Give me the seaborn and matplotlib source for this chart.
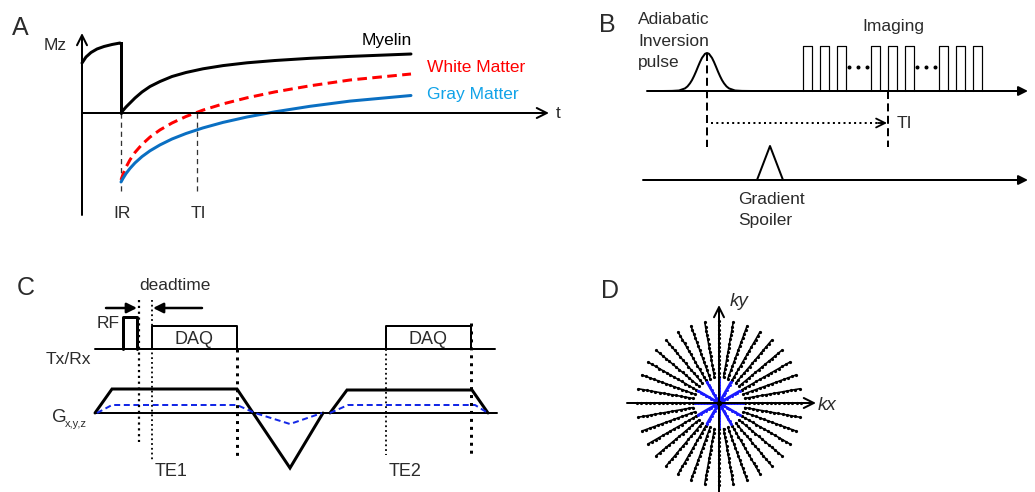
import numpy as np
import matplotlib
matplotlib.use("Agg")
import matplotlib.pyplot as plt
import seaborn as sns

sns.set_theme(style="white")
plt.rcParams['font.family'] = ['Liberation Sans', 'DejaVu Sans']

# ---------------- data (pixel coordinates) -------------
# Panel A : magnetisation recovery curves
myelin_pre_x = [82, 86, 91, 97, 104, 112, 120]
myelin_pre_y = [63, 57, 52.5, 49, 46.5, 44.5, 43]
myelin_x = [121, 123, 126, 130, 135, 142, 150, 160, 172, 186, 203, 223, 247, 275, 310, 350, 411]
myelin_y = [113, 110.5, 107, 103, 98, 92, 86.5, 81.5, 76.5, 72.5, 68.8, 65.6, 62.8, 60.5, 58.3, 56.4, 54]
wm_x = myelin_x
wm_y = [180, 174.3, 167.2, 159.8, 152.4, 144.4, 137.1, 129.9, 123, 116.5, 110.1, 103.9, 97.8, 91.9, 85.8, 80, 74]
gm_x = myelin_x
gm_y = [182, 178.4, 173.6, 168.4, 162.9, 156.6, 150.8, 144.9, 139, 133.5, 127.9, 122.4, 117, 111.8, 106.3, 101.1, 95.5]
curve_labels = ["Myelin", "White Matter", "Gray Matter"]

# Panel B : pulse sequence
gauss_dx = [-44, -35, -28, -22, -19.5, -17, -15, -13, -11, -9, -7, -5, -2, 0, 2, 5, 7, 9, 11, 13, 15, 17, 19.5, 22, 28, 35, 44]
gauss_h = [0, 0.1, 0.5, 2.6, 4.6, 7.7, 10.9, 14.9, 19.4, 24.3, 29, 33.1, 37.2, 38, 37.2, 33.1, 29, 24.3, 19.4, 14.9, 10.9, 7.7, 4.6, 2.6, 0.5, 0.1, 0]
imaging_lefts = [803, 819.5, 836.5, 871, 888, 904.5, 939, 956, 973]
imaging_dots = [849, 858, 867, 917, 926, 935]

# Panel C : gradient waveforms
grad_x1 = [95, 112, 237, 290, 323]
grad_y1 = [413, 389, 389, 468, 413]
grad_x2 = [330, 347, 472, 488]
grad_y2 = [413, 390, 390, 413]
blue_x1 = [97, 112, 237, 255, 290, 322]
blue_y1 = [413, 405, 405, 413, 424, 413]
blue_x2 = [330, 348, 475, 488]
blue_y2 = [413, 405, 405, 413]
daq_boxes = [(152, 237), (386, 471)]

# Panel D : radial k-space spokes
spoke_angles = list(range(0, 360, 10))
blue_angles = list(range(0, 360, 30))

# ---------------- drawing ----------------
W, H = 1035, 492
fig = plt.figure(figsize=(W / 100, H / 100), dpi=100)
ax = fig.add_axes([0, 0, 1, 1])
ax.set_xlim(0, W)
ax.set_ylim(H, 0)
ax.axis('off')

def px(p):
    return p * 72 / 100.0

TXT = '#2b2b2b'
FS = 12.5

def arrow(x0, y0, x1, y1, style='->', lw=2, ms=20, color='black'):
    ax.annotate('', xy=(x1, y1), xytext=(x0, y0),
                arrowprops=dict(arrowstyle=style, lw=px(lw), color=color,
                                mutation_scale=ms, shrinkA=0, shrinkB=0))

# Panel letters
for lab, (lx, ly) in zip("ABCD", [(20, 28), (607, 25), (26, 288), (610, 291)]):
    ax.text(lx, ly, lab, fontsize=18, color=TXT, ha='center', va='center')

# ---- Panel A ----
arrow(82, 215, 82, 33, '->', 2, 18)
arrow(82, 113, 549, 113, '->', 2, 18)
ax.text(55, 45, "Mz", fontsize=FS, color=TXT, ha='center', va='center')
ax.text(556, 114, "t", fontsize=FS, color=TXT, ha='left', va='center')
for xv, lab in [(121, "IR"), (197, "TI")]:
    ax.plot([xv, xv], [113, 193], color='#333333', lw=px(1.3), dashes=(4, 3))
    ax.text(xv + 1, 213, lab, fontsize=FS, color=TXT, ha='center', va='center')
sns.lineplot(x=myelin_pre_x, y=myelin_pre_y, sort=False, color='black', lw=px(3), ax=ax)
ax.plot([120, 121, 121], [43, 43, 113], color='black', lw=px(3), solid_joinstyle='miter')
sns.lineplot(x=myelin_x, y=myelin_y, sort=False, color='black', lw=px(3), ax=ax)
ax.plot(wm_x, wm_y, color='#ff0000', lw=px(3), dashes=(3.2, 1.8))
sns.lineplot(x=gm_x, y=gm_y, sort=False, color='#0a6fc2', lw=px(3), ax=ax)
ax.text(412, 41, curve_labels[0], fontsize=FS, color='black', ha='right', va='center')
ax.text(427, 68, curve_labels[1], fontsize=FS, color='#ff0000', ha='left', va='center')
ax.text(427, 95, curve_labels[2], fontsize=FS, color='#11a3e8', ha='left', va='center')

# ---- Panel B ----
arrow(647, 91, 1028, 91, '-|>', 2, 14)
arrow(643, 180, 1028, 180, '-|>', 2, 14)
ax.plot([707 + d for d in gauss_dx], [91 - h for h in gauss_h], color='black', lw=px(2))
ax.plot([707, 707], [53, 147], color='black', lw=px(2), dashes=(4, 2.2))
ax.plot([888, 888], [91, 147], color='black', lw=px(2), dashes=(4, 2.2))
for xl in imaging_lefts:
    ax.plot([xl, xl, xl + 9, xl + 9], [91, 46, 46, 91], color='black', lw=px(1.2))
ax.plot(imaging_dots, [67] * len(imaging_dots), ls='none', marker='o', ms=px(2.6), color='black')
ax.plot([711, 886], [123, 123], color='black', lw=px(2), ls=':')
arrow(878, 123, 887, 123, '->', 1.8, 16)
ax.plot([757, 770, 783], [180, 146, 180], color='black', lw=px(2))
for i, s in enumerate(["Adiabatic", "Inversion", "pulse"]):
    ax.text(638, 20 + 21 * i, s, fontsize=FS, color=TXT, ha='left', va='center')
ax.text(893, 26, "Imaging", fontsize=FS, color=TXT, ha='center', va='center')
ax.text(897, 123, "TI", fontsize=FS, color=TXT, ha='left', va='center')
ax.text(738, 199, "Gradient", fontsize=FS, color=TXT, ha='left', va='center')
ax.text(738, 220, "Spoiler", fontsize=FS, color=TXT, ha='left', va='center')

# ---- Panel C ----
ax.plot([95, 495], [349, 349], color='black', lw=px(2))
ax.plot([95, 497], [413, 413], color='black', lw=px(2))
ax.plot([123, 123, 137, 137], [349, 317, 317, 349], color='black', lw=px(3))
for (a, b) in daq_boxes:
    ax.plot([a, a, b, b], [349, 326, 326, 349], color='black', lw=px(2))
    ax.text((a + b) / 2, 339, "DAQ", fontsize=13, color=TXT, ha='center', va='center')
ax.plot(grad_x1, grad_y1, color='black', lw=px(3), solid_joinstyle='miter')
ax.plot(grad_x2, grad_y2, color='black', lw=px(3), solid_joinstyle='miter')
ax.plot(blue_x1, blue_y1, color='#1428e6', lw=px(2), dashes=(3, 1.8))
ax.plot(blue_x2, blue_y2, color='#1428e6', lw=px(2), dashes=(3, 1.8))
ax.plot([139, 139], [300, 442], color='black', lw=px(2.2), ls=':')
ax.plot([152, 152], [300, 460], color='black', lw=px(1.8), ls=':')
ax.plot([237, 237], [349, 457], color='black', lw=px(3), ls=':')
ax.plot([386, 386], [349, 455], color='black', lw=px(1.8), ls=':')
ax.plot([471, 471], [323, 455], color='black', lw=px(3), ls=':')
arrow(106, 308, 137, 308, '-|>', 2.5, 15)
arrow(202, 308, 153, 308, '-|>', 2.5, 15)
ax.text(175, 285, "deadtime", fontsize=FS, color=TXT, ha='center', va='center')
ax.text(108, 323, "RF", fontsize=FS, color=TXT, ha='center', va='center')
ax.text(91, 359, "Tx/Rx", fontsize=FS, color=TXT, ha='right', va='center')
ax.text(52, 417, "G", fontsize=FS + 1, color=TXT, ha='left', va='center')
ax.text(65, 424, "x,y,z", fontsize=8, color=TXT, ha='left', va='center')
ax.text(155, 472, "TE1", fontsize=13, color=TXT, ha='left', va='center')
ax.text(389, 472, "TE2", fontsize=13, color=TXT, ha='left', va='center')

# ---- Panel D ----
cx, cy = 719, 403
r_black = np.arange(26, 86, 4.3)
for ang in spoke_angles:
    t = np.deg2rad(ang)
    ax.plot(cx + r_black * np.cos(t), cy - r_black * np.sin(t), color='black',
            lw=px(1.6), marker='o', ms=px(3.2), mew=0)
arrow(627, cy, 816, cy, '->', 2, 18)
arrow(cx, 495, cx, 305, '->', 2, 18)
r_blue = np.arange(0, 25, 3.0)
for ang in blue_angles:
    t = np.deg2rad(ang)
    ax.plot(cx + r_blue * np.cos(t), cy - r_blue * np.sin(t), color='#1a1aff',
            lw=px(2.6), marker='o', ms=px(3), mew=0)
ax.plot([cx], [cy], marker='o', ms=px(4), color='black', ls='none')
ax.text(818, 405, "kx", fontsize=FS + 1, color=TXT, ha='left', va='center', style='italic')
ax.text(730, 302, "ky", fontsize=FS + 1, color=TXT, ha='left', va='center', style='italic')

fig.savefig("out.png", dpi=100)
